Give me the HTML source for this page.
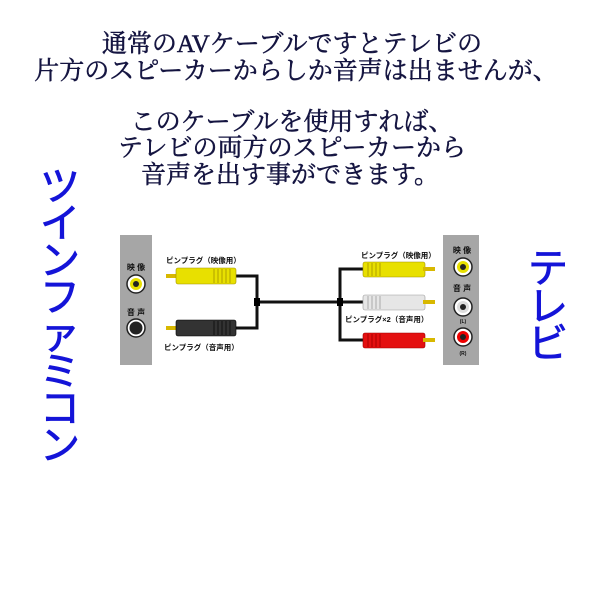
<!DOCTYPE html>
<html><head><meta charset="utf-8"><style>
html,body{margin:0;padding:0;background:#fff;}
svg{display:block}
.t{font-family:"Liberation Serif","Noto Serif CJK SC",serif;font-size:25px;fill:#141440;stroke:#141440;stroke-width:0.5;text-anchor:middle}
.b{font-family:"Liberation Sans","Noto Sans CJK JP",sans-serif;font-size:40px;fill:#1414d8;stroke:#1414d8;stroke-width:0.8;text-anchor:middle}
.s{font-family:"Liberation Sans","Noto Sans CJK JP",sans-serif;font-size:7.5px;font-weight:bold;fill:#111}
.p{font-family:"Liberation Sans","Noto Sans CJK JP",sans-serif;font-size:8px;font-weight:bold;fill:#111;text-anchor:middle}
</style></head><body>
<svg width="600" height="600" viewBox="0 0 600 600" xmlns="http://www.w3.org/2000/svg">
<text class="t" x="292" y="52">通常のAVケーブルですとテレビの</text>
<text class="t" x="296" y="79">片方のスピーカーからしか音声は出ませんが、</text>
<text class="t" x="292" y="130">このケーブルを使用すれば、</text>
<text class="t" x="292" y="156">テレビの両方のスピーカーから</text>
<text class="t" x="290" y="183">音声を出す事ができます。</text>

<g class="b">
<text x="60" y="200">ツ</text><text x="60" y="237">イ</text><text x="60" y="274">ン</text><text x="60" y="311">フ</text>
<text x="60" y="348">ァ</text><text x="60" y="385">ミ</text><text x="60" y="422">コ</text><text x="60" y="459">ン</text>
<text x="548" y="282">テ</text><text x="548" y="320">レ</text><text x="548" y="357">ビ</text>
</g>

<rect x="120" y="235" width="32" height="130" fill="#a6a6a6"/>
<rect x="443" y="235" width="36" height="130" fill="#a6a6a6"/>
<text class="p" x="136" y="270">映 像</text>
<circle cx="136" cy="284" r="9" fill="#fff" stroke="#222" stroke-width="1.5"/><circle cx="136" cy="284" r="6" fill="#e8e000"/><circle cx="136" cy="284" r="3" fill="#222"/>
<text class="p" x="136" y="315">音 声</text>
<circle cx="136" cy="328" r="9" fill="#fff" stroke="#222" stroke-width="1.5"/><circle cx="136" cy="328" r="6.5" fill="#222"/>
<text class="p" x="462" y="253">映 像</text>
<circle cx="463" cy="267" r="9" fill="#fff" stroke="#222" stroke-width="1.5"/><circle cx="463" cy="267" r="6" fill="#e8e000"/><circle cx="463" cy="267" r="3" fill="#222"/>
<text class="p" x="462" y="291">音 声</text>
<circle cx="463" cy="307" r="9" fill="#fff" stroke="#222" stroke-width="1.5"/><circle cx="463" cy="307" r="6" fill="#ddd"/><circle cx="463" cy="307" r="3" fill="#222"/>
<text class="p" x="463" y="323" style="font-size:5px">(L)</text>
<circle cx="463" cy="337" r="9" fill="#fff" stroke="#222" stroke-width="1.5"/><circle cx="463" cy="337" r="6" fill="#e00"/><circle cx="463" cy="337" r="3" fill="#222"/>
<text class="p" x="463" y="355" style="font-size:5px">(R)</text>

<g fill="none" stroke="#111" stroke-width="3">
<path d="M235 276 H257 V328 H235"/>
<path d="M257 302 H340"/>
<path d="M365 269 H340 V340 H365"/>
<path d="M340 302 H365"/>
</g>
<rect x="254" y="298" width="6" height="8" fill="#000"/>
<rect x="337" y="298" width="6" height="8" fill="#000"/>

<rect x="166" y="274" width="12" height="4" fill="#d8b800"/>
<rect x="176" y="268" width="60" height="16" rx="2" fill="#e8e000" stroke="#a09000" stroke-width="0.6"/>
<g stroke="#b0a000" stroke-width="1"><path d="M214 269V283M218 269V283M222 269V283M226 269V283M230 269V283"/></g>
<rect x="166" y="326" width="12" height="4" fill="#d8b800"/>
<rect x="176" y="320" width="60" height="16" rx="2" fill="#333" stroke="#000" stroke-width="0.6"/>
<g stroke="#111" stroke-width="1"><path d="M214 321V335M218 321V335M222 321V335M226 321V335M230 321V335"/></g>
<text class="s" x="166" y="263">ピンプラグ（映像用）</text>
<text class="s" x="164" y="350">ピンプラグ（音声用）</text>

<rect x="363" y="262" width="62" height="15" rx="2" fill="#e8e000" stroke="#a09000" stroke-width="0.6"/>
<rect x="423" y="267" width="12" height="4" fill="#d8b800"/>
<rect x="363" y="295" width="62" height="15" rx="2" fill="#e6e6e6" stroke="#999" stroke-width="0.6"/>
<rect x="423" y="300" width="12" height="4" fill="#d8b800"/>
<rect x="363" y="333" width="62" height="15" rx="2" fill="#e41010" stroke="#900" stroke-width="0.6"/>
<rect x="423" y="338" width="12" height="4" fill="#d8b800"/>
<g stroke-width="1"><path stroke="#b0a000" d="M368 263V276M372 263V276M376 263V276M380 263V276"/><path stroke="#aaa" d="M368 296V309M372 296V309M376 296V309M380 296V309"/><path stroke="#a00" d="M368 334V347M372 334V347M376 334V347M380 334V347"/></g>
<text class="s" x="361" y="258">ピンプラグ（映像用）</text>
<text class="s" x="345" y="322">ピンプラグ×2（音声用）</text>
</svg>
</body></html>
